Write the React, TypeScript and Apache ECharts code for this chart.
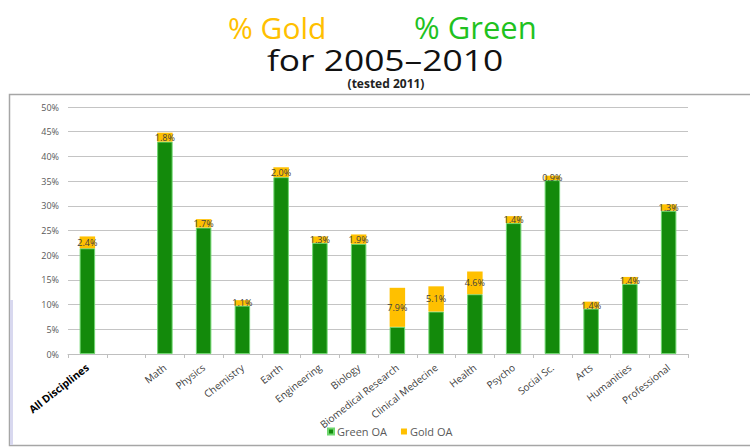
import React, { useEffect, useRef } from "react";
import * as echarts from "echarts";

const categories = ["All Disciplines", "", "Math", "Physics", "Chemistry", "Earth", "Engineering", "Biology", "Biomedical Research", "Clinical Medecine", "Health", "Psycho", "Social Sc.", "Arts", "Humanities", "Professional"];
const greenOA = [21.4, null, 43.0, 25.6, 9.8, 35.8, 22.5, 22.3, 5.5, 8.6, 12.1, 26.5, 35.2, 9.2, 14.2, 29.0];
const goldOA = [2.4, null, 1.8, 1.7, 1.1, 2.0, 1.3, 1.9, 7.9, 5.1, 4.6, 1.4, 0.9, 1.4, 1.4, 1.3];
const yTicks = [0, 5, 10, 15, 20, 25, 30, 35, 40, 45, 50];

export default function App() {
  const ref = useRef<HTMLDivElement>(null);
  useEffect(() => {
    if (!ref.current) return;
    const chart = echarts.init(ref.current, null, { renderer: "svg" });
    const font = "'Open Sans', sans-serif";
    chart.setOption({
      animation: false,
      backgroundColor: "#ffffff",
      graphic: [
        { type: "rect", shape: { x: 9.5, y: 94.5, width: 760, height: 351 }, style: { fill: "none", stroke: "#a6a6a6", lineWidth: 1.5 }, z: 0 },
        { type: "rect", shape: { x: 10, y: 300, width: 3, height: 145 }, style: { fill: "#d8d8ef" }, z: 0 },
        { type: "text", x: 228, y: 27, style: { text: "% Gold", fill: "#FFC000", font: "30px " + font, textVerticalAlign: "middle" } },
        { type: "text", x: 414, y: 27, style: { text: "% Green", fill: "#1FC21F", font: "31px " + font, textVerticalAlign: "middle" } },
        { type: "text", x: 385, y: 59, scaleX: 1.22, style: { text: "for 2005\u20132010", fill: "#111111", font: "29px " + font, textAlign: "center", textVerticalAlign: "middle" } },
        { type: "text", x: 386, y: 83, style: { text: "(tested 2011)", fill: "#222222", font: "bold 12px " + font, textAlign: "center", textVerticalAlign: "middle" } }
      ],
      legend: {
        left: 322, top: 421, itemWidth: 6, itemHeight: 6, itemGap: 14,
        icon: "rect",
        textStyle: { fontSize: 11, color: "#595959", fontFamily: font, padding: [0, 0, 0, -2] },
        data: ["Green OA", "Gold OA"]
      },
      grid: { left: 68, right: 62, top: 107, bottom: 94 },
      xAxis: {
        type: "category",
        data: categories,
        axisLine: { lineStyle: { color: "#bfbfbf" } },
        axisTick: { show: true, alignWithLabel: false, length: 4, lineStyle: { color: "#bfbfbf" } },
        axisLabel: {
          rotate: 38, interval: 0, fontSize: 10, color: "#404040", fontFamily: font, margin: 12,
          formatter: (v: string) => (v === "All Disciplines" ? "{b|" + v + "}" : v),
          rich: { b: { fontWeight: "bold", color: "#000000", fontSize: 10.5, fontFamily: font } }
        }
      },
      yAxis: {
        type: "value", min: 0, max: 50, interval: 5,
        axisLine: { show: false }, axisTick: { show: false },
        axisLabel: { formatter: (v: number) => (yTicks.includes(v) ? v + "%" : ""), fontSize: 9, color: "#595959", fontFamily: font, margin: 9 },
        splitLine: { lineStyle: { color: "#c4c4c4", width: 1 } }
      },
      series: [
        {
          name: "Green OA", type: "bar", stack: "oa", data: greenOA, barWidth: "40%",
          itemStyle: { color: "#138A0B", borderColor: "#6fd66f", borderWidth: 1 }
        },
        {
          name: "Gold OA", type: "bar", stack: "oa", data: goldOA, barWidth: "40%",
          itemStyle: { color: "#FFC000" },
          label: {
            show: true, position: "inside", formatter: (p: any) => p.value.toFixed(1) + "%",
            fontSize: 9, color: "#404040", fontFamily: font
          }
        }
      ]
    });
    return () => chart.dispose();
  }, []);
  return <div ref={ref} style={{ width: 750, height: 448, position: "absolute", left: 0, top: 0 }} />;
}
